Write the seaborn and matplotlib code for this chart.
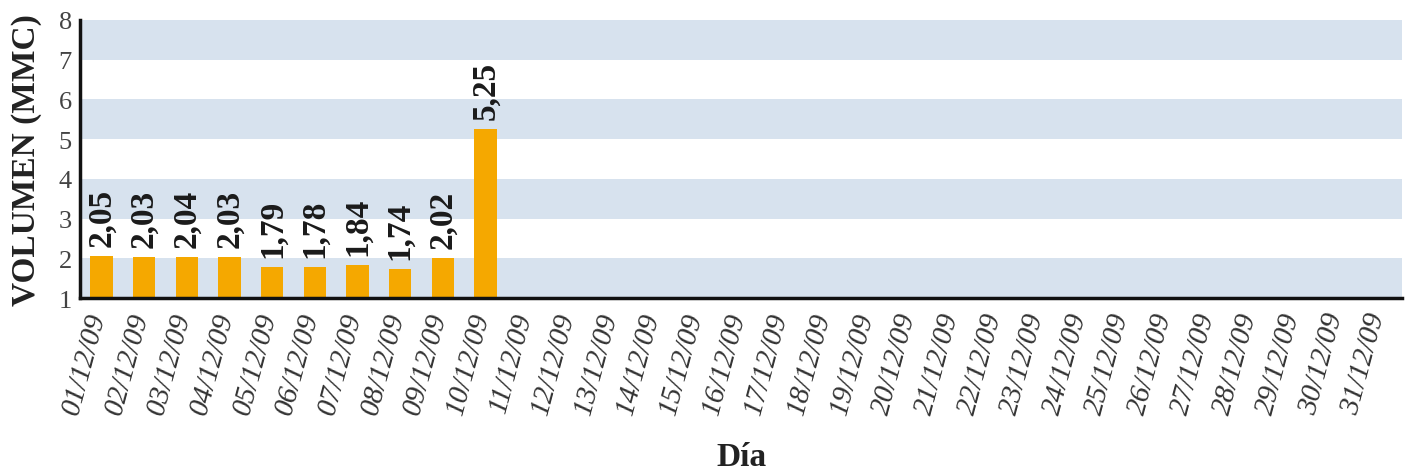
import matplotlib
matplotlib.use("Agg")
import matplotlib.pyplot as plt
import seaborn as sns
import pandas as pd
import numpy as np

dias = [f"{d:02d}/12/09" for d in range(1, 32)]
volumen = [2.05, 2.03, 2.04, 2.03, 1.79, 1.78, 1.84, 1.74, 2.02, 5.25] + [np.nan] * 21
etiquetas = ["2,05", "2,03", "2,04", "2,03", "1,79", "1,78", "1,84", "1,74", "2,02", "5,25"]
yticks = [1, 2, 3, 4, 5, 6, 7, 8]

sns.set_style("white")
plt.rcParams['font.family'] = ['Liberation Serif', 'DejaVu Serif']

df = pd.DataFrame({"Día": dias, "Volumen": volumen})

fig = plt.figure(figsize=(14.08, 4.77), dpi=100)
ax = fig.add_axes([0.057, 0.373, 0.939, 0.583])

band_color = "#D7E2EE"
for lo in yticks[:-1:2]:
    ax.axhspan(lo, lo + 1, color=band_color, zorder=0, lw=0)

sns.barplot(data=df, x="Día", y="Volumen", order=dias, color="#F5A800",
            width=0.52, ax=ax, zorder=2, saturation=1, edgecolor="none", linewidth=0)

for i, (v, t) in enumerate(zip(volumen, etiquetas)):
    ax.text(i, v + 0.25, t, rotation=90, ha="center", va="bottom",
            fontsize=24, fontweight="bold", color="#1a1a1a")

ax.set_ylim(1, 8)
ax.set_xlim(-0.5, len(dias) - 0.5)
ax.set_yticks(yticks)
ax.tick_params(axis="y", labelsize=19, length=0, pad=6, colors="#444444")
ax.tick_params(axis="x", length=0, pad=8)

offset = matplotlib.transforms.ScaledTranslation(9 / 100, 0, fig.dpi_scale_trans)
for lab in ax.get_xticklabels():
    lab.set_rotation(75)
    lab.set_ha("right")
    lab.set_va("top")
    lab.set_rotation_mode("default")
    lab.set_fontstyle("italic")
    lab.set_fontsize(21)
    lab.set_color("#333333")
    lab.set_transform(lab.get_transform() + offset)

for s in ["top", "right"]:
    ax.spines[s].set_visible(False)
for s in ["left", "bottom"]:
    ax.spines[s].set_color("#111111")
    ax.spines[s].set_linewidth(2.5)
    ax.spines[s].set_zorder(5)

ax.set_ylabel("VOLUMEN (MMC)", fontsize=24, fontweight="bold", color="#222222", labelpad=12)
ax.set_xlabel("Día", fontsize=24, fontweight="bold", color="#222222", labelpad=18)

fig.savefig("out.png", dpi=100)
